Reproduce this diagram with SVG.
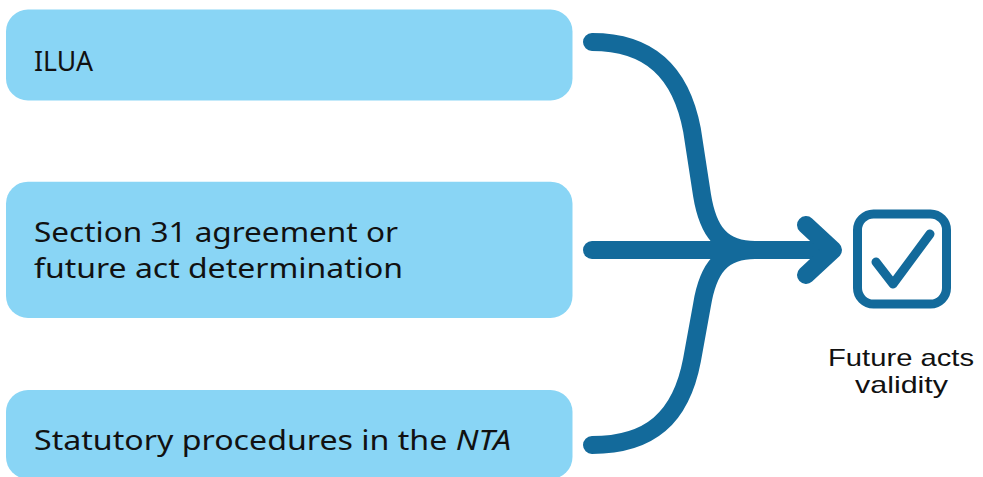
<svg xmlns="http://www.w3.org/2000/svg" width="983" height="477" viewBox="0 0 983 477">
  <style>
    .box { fill: #89D5F5; }
    .label { font-family: "Noto Sans", "DejaVu Sans", sans-serif; font-size: 28px; fill: #111111; }
    .caption { font-family: "Liberation Sans", Arial, sans-serif; font-size: 24px; fill: #111111; text-anchor: middle; }
    .flow { fill: none; stroke: #136A9B; stroke-width: 18; stroke-linecap: round; stroke-linejoin: round; }
    .icon { fill: none; stroke: #136A9B; stroke-width: 9; stroke-linecap: round; stroke-linejoin: round; }
  </style>

  <rect width="983" height="477" fill="#FFFFFF"/>

  <g id="node-ilua">
    <rect class="box" x="6" y="9.5" width="566.5" height="91" rx="22"/>
    <text class="label" x="34" y="71" textLength="59" lengthAdjust="spacingAndGlyphs">ILUA</text>
  </g>

  <g id="node-section31">
    <rect class="box" x="6" y="181.7" width="566.5" height="136.3" rx="22"/>
    <text class="label" x="34" y="241.7" textLength="364" lengthAdjust="spacingAndGlyphs">Section 31 agreement or</text>
    <text class="label" x="34" y="278" textLength="369" lengthAdjust="spacingAndGlyphs">future act determination</text>
  </g>

  <g id="node-statutory">
    <rect class="box" x="6" y="390" width="566.5" height="89" rx="22"/>
    <text class="label" x="34" y="450.3" textLength="477" lengthAdjust="spacingAndGlyphs">Statutory procedures in the <tspan font-style="italic">NTA</tspan></text>
  </g>

  <g id="connectors">
    <!-- upper branch sweeping down into the main line -->
    <path class="flow" d="M 592 42 C 650 42, 681 72, 692 130 L 702 195 C 708 232, 722 250, 755 250"/>
    <!-- lower branch sweeping up into the main line -->
    <path class="flow" d="M 592 445 C 650 445, 681 418, 692 360 L 702 305 C 708 268, 722 250, 755 250"/>
    <!-- main line with chevron head -->
    <path class="flow" d="M 592 250 L 830 250"/>
    <path class="flow" d="M 806 225 L 833 250 L 806 275" stroke-linejoin="miter"/>
  </g>

  <g id="node-validity">
    <rect class="icon" x="857.5" y="214" width="89" height="90" rx="16"/>
    <path class="icon" d="M 876 262 L 893 284 L 930 234"/>
    <text class="caption" x="901" y="366" textLength="146" lengthAdjust="spacingAndGlyphs">Future acts</text>
    <text class="caption" x="901.5" y="393" textLength="93" lengthAdjust="spacingAndGlyphs">validity</text>
  </g>
</svg>
